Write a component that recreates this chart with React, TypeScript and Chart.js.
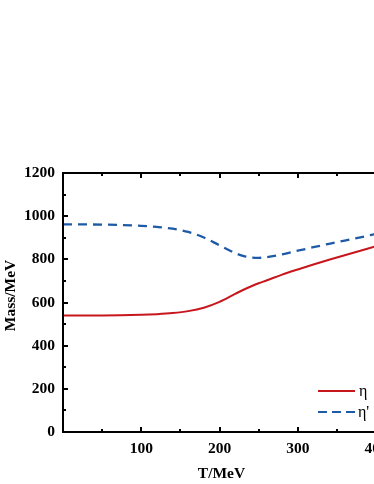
import React, { useEffect, useRef } from "react";
import { Chart, registerables } from "chart.js";

Chart.register(...registerables);

const temps = [0, 50, 100, 120, 140, 160, 180, 200, 220, 230, 240, 250, 260, 280, 300, 320, 340, 360, 380, 400];
const etaMass = [540, 540, 543, 546, 551, 560, 576, 603, 640, 658, 674, 689, 702, 729, 753, 776, 798, 819, 840, 861];
const etaPrimeMass = [962, 961, 955, 950, 942, 927, 901, 865, 829, 816, 809, 807, 810, 823, 840, 856, 872, 887, 902, 918];
const xTicks = [100, 200, 300, 400];
const yTicks = [0, 200, 400, 600, 800, 1000, 1200];
const seriesNames = ["η", "η'"];
const xTitle = "T/MeV";
const yTitle = "Mass/MeV";

const RED = "#C8161D";
const BLUE = "#1F5AA6";
const FONT = "'Liberation Serif', 'Times New Roman', serif";

const framePlugin = {
  id: "frame",
  afterDraw(chart: any) {
    const { ctx, chartArea: a, scales } = chart;
    const xs = scales.x;
    const ys = scales.y;
    ctx.save();
    ctx.strokeStyle = "#000";
    ctx.lineWidth = 2;
    ctx.strokeRect(a.left, a.top, a.right - a.left, a.bottom - a.top);

    // inward ticks (bottom, top, left)
    const drawX = (v: number, len: number) => {
      const px = Math.round(xs.getPixelForValue(v));
      ctx.beginPath();
      ctx.moveTo(px, a.bottom);
      ctx.lineTo(px, a.bottom - len);
      ctx.moveTo(px, a.top);
      ctx.lineTo(px, a.top + len);
      ctx.stroke();
    };
    const drawY = (v: number, len: number) => {
      const py = Math.round(ys.getPixelForValue(v));
      ctx.beginPath();
      ctx.moveTo(a.left, py);
      ctx.lineTo(a.left + len, py);
      ctx.stroke();
    };
    ctx.lineWidth = 2;
    for (let v = 0; v <= xs.max; v += 50) drawX(v, v % 100 === 0 ? 5 : 3);
    for (let v = 0; v <= ys.max; v += 100) drawY(v, v % 200 === 0 ? 5 : 3);

    // axis titles
    ctx.fillStyle = "#000";
    ctx.font = `bold 15.5px ${FONT}`;
    ctx.textAlign = "center";
    ctx.textBaseline = "alphabetic";
    ctx.fillText(xTitle, (a.left + a.right) / 2 + 2, a.bottom + 46);
    ctx.save();
    ctx.translate(15, (a.top + a.bottom) / 2 - 7);
    ctx.rotate(-Math.PI / 2);
    ctx.fillText(yTitle, 0, 0);
    ctx.restore();

    // legend
    const lx0 = a.right - 58;
    const lx1 = a.right - 21;
    const ly0 = a.bottom - 41;
    const ly1 = a.bottom - 20;
    ctx.lineWidth = 2;
    ctx.strokeStyle = RED;
    ctx.beginPath();
    ctx.moveTo(lx0, ly0);
    ctx.lineTo(lx1, ly0);
    ctx.stroke();
    ctx.strokeStyle = BLUE;
    ctx.setLineDash([9, 5]);
    ctx.beginPath();
    ctx.moveTo(lx0, ly1);
    ctx.lineTo(lx1, ly1);
    ctx.stroke();
    ctx.setLineDash([]);
    ctx.fillStyle = "#000";
    ctx.font = `16px ${FONT}`;
    ctx.textAlign = "left";
    ctx.textBaseline = "middle";
    ctx.fillText(seriesNames[0], lx1 + 4, ly0 + 1);
    ctx.fillText(seriesNames[1], lx1 + 3, ly1 + 1);
    ctx.restore();
  },
};

export default function App() {
  const ref = useRef<HTMLCanvasElement | null>(null);

  useEffect(() => {
    if (!ref.current) return;
    const chart = new Chart(ref.current, {
      type: "line",
      data: {
        labels: temps,
        datasets: [
          {
            label: seriesNames[0],
            data: temps.map((t, i) => ({ x: t, y: etaMass[i] })),
            borderColor: RED,
            borderWidth: 2,
            pointRadius: 0,
            cubicInterpolationMode: "monotone",
            fill: false,
          },
          {
            label: seriesNames[1],
            data: temps.map((t, i) => ({ x: t, y: etaPrimeMass[i] })),
            borderColor: BLUE,
            borderWidth: 2.3,
            borderDash: [9, 6],
            pointRadius: 0,
            cubicInterpolationMode: "monotone",
            fill: false,
          },
        ],
      },
      options: {
        responsive: false,
        animation: false,
        layout: { padding: { top: 173, right: 24, left: 0, bottom: 0 } },
        plugins: { legend: { display: false }, tooltip: { enabled: false } },
        scales: {
          x: {
            type: "linear",
            min: 0,
            max: 400,
            afterFit: (s: any) => {
              s.height = 52;
            },
            afterBuildTicks: (s: any) => {
              s.ticks = xTicks.map((v) => ({ value: v }));
            },
            grid: { display: false, drawTicks: false },
            border: { display: false },
            ticks: {
              padding: 8,
              color: "#000",
              font: { family: FONT, size: 15.5, weight: "bold" },
              maxRotation: 0,
              callback: (v: any) => String(v),
            },
          },
          y: {
            type: "linear",
            min: 0,
            max: 1200,
            afterFit: (s: any) => {
              s.width = 63;
            },
            afterBuildTicks: (s: any) => {
              s.ticks = yTicks.map((v) => ({ value: v }));
            },
            grid: { display: false, drawTicks: false },
            border: { display: false },
            ticks: {
              padding: 8,
              color: "#000",
              font: { family: FONT, size: 15.5, weight: "bold" },
              callback: (v: any) => String(v),
            },
          },
        },
      },
      plugins: [framePlugin],
    } as any);
    return () => chart.destroy();
  }, []);

  return (
    <div
      style={{
        position: "fixed",
        left: 0,
        top: 0,
        width: 374,
        height: 484,
        overflow: "hidden",
        background: "#fff",
      }}
    >
      <canvas ref={ref} width={400} height={484} style={{ display: "block" }} />
    </div>
  );
}
